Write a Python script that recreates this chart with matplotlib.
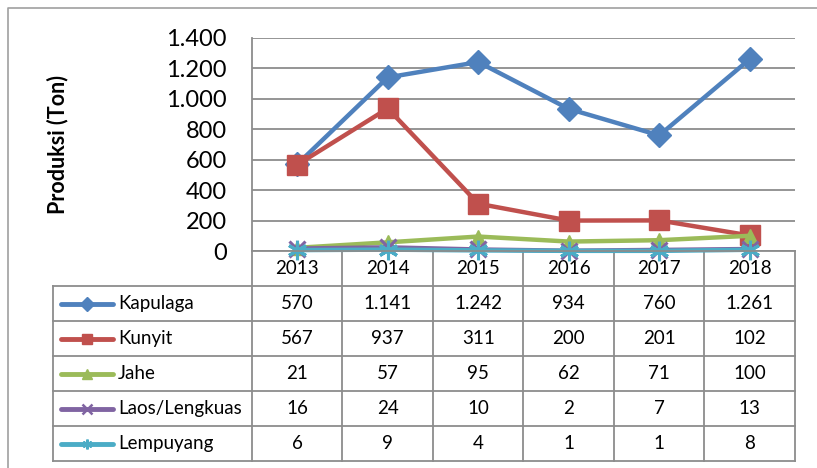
import matplotlib
matplotlib.use("Agg")
import matplotlib.pyplot as plt
from matplotlib.ticker import FuncFormatter

plt.rcParams['font.family'] = ['Lato', 'DejaVu Sans']

years = ["2013", "2014", "2015", "2016", "2017", "2018"]
series_names = ["Kapulaga", "Kunyit", "Jahe", "Laos/Lengkuas", "Lempuyang"]
kapulaga = [570, 1141, 1242, 934, 760, 1261]
kunyit = [567, 937, 311, 200, 201, 102]
jahe = [21, 57, 95, 62, 71, 100]
laos = [16, 24, 10, 2, 7, 13]
lempuyang = [6, 9, 4, 1, 1, 8]
values = [kapulaga, kunyit, jahe, laos, lempuyang]
colors = ["#4F81BD", "#C0504D", "#9BBB59", "#8064A2", "#4BACC6"]
markers = ["D", "s", "^", "x", (6, 2, 0)]
msizes = [12, 14, 10, 11, 14]

W, H = 817, 468
fig = plt.figure(figsize=(W / 100, H / 100), dpi=100)

GRID = "#8C8C8C"
tab = fig.add_axes([0, 0, 1, 1], zorder=0)
tab.set_xlim(0, W)
tab.set_ylim(H, 0)
tab.axis("off")

# chart area border
tab.plot([8, 8, 830], [480, 8, 8], color="#A0A0A0", lw=1.2, clip_on=False)

pl, pr, pt, pb = 252, 795, 38, 251
ax = fig.add_axes([pl / W, 1 - pb / H, (pr - pl) / W, (pb - pt) / H], zorder=2)
ax.set_facecolor("none")
x = list(range(len(years)))
for vals, c, m, ms in zip(values, colors, markers, msizes):
    mew = 2.2 if m == "x" or isinstance(m, tuple) else 1
    ax.plot(x, vals, color=c, lw=3.2, marker=m, markersize=ms,
            markeredgewidth=mew, markeredgecolor=c, clip_on=False)
ax.set_xlim(-0.5, len(years) - 0.5)
ax.set_ylim(0, 1400)
ax.set_yticks(range(0, 1401, 200))
ax.yaxis.set_major_formatter(FuncFormatter(lambda v, p: f"{int(v):,}".replace(",", ".")))
ax.tick_params(axis="y", length=0, pad=18, labelsize=17)
ax.set_xticks([])
ax.grid(axis="y", color=GRID, lw=1.3)
for s in ["top", "right"]:
    ax.spines[s].set_visible(False)
for s in ["left", "bottom"]:
    ax.spines[s].set_color(GRID)
    ax.spines[s].set_linewidth(1.3)

fig.text(58 / W, 1 - 145 / H, "Produksi (Ton)", rotation=90, ha="center", va="center",
         fontsize=15.5, fontweight="bold")

# data table
colw = (pr - pl) / len(years)
row_tops = [251, 286, 321, 356, 391, 426, 461]
tl = 53
for i in range(len(years) + 1):
    xx = pl + i * colw
    tab.plot([xx, xx], [row_tops[0], row_tops[-1]], color=GRID, lw=1.3)
tab.plot([tl, tl], [row_tops[1], row_tops[-1]], color=GRID, lw=1.3)
for yy in row_tops[1:]:
    tab.plot([tl, pr], [yy, yy], color=GRID, lw=1.3)
for i, yr in enumerate(years):
    tab.text(pl + (i + 0.5) * colw, (row_tops[0] + row_tops[1]) / 2, yr,
             ha="center", va="center", fontsize=13.5)
for r, (name, vals, c, m) in enumerate(zip(series_names, values, colors, markers)):
    yc = (row_tops[r + 1] + row_tops[r + 2]) / 2
    mew = 1.8 if m == "x" or isinstance(m, tuple) else 1
    tab.plot([61, 113], [yc, yc], color=c, lw=3.5, solid_capstyle="round")
    tab.plot([87], [yc], color=c, marker=m, markersize=7, markeredgewidth=mew, markeredgecolor=c)
    tab.text(118, yc, name, ha="left", va="center", fontsize=13.5)
    for i, v in enumerate(vals):
        tab.text(pl + (i + 0.5) * colw, yc, f"{v:,}".replace(",", "."),
                 ha="center", va="center", fontsize=13.5)

fig.savefig("out.png", dpi=100)
